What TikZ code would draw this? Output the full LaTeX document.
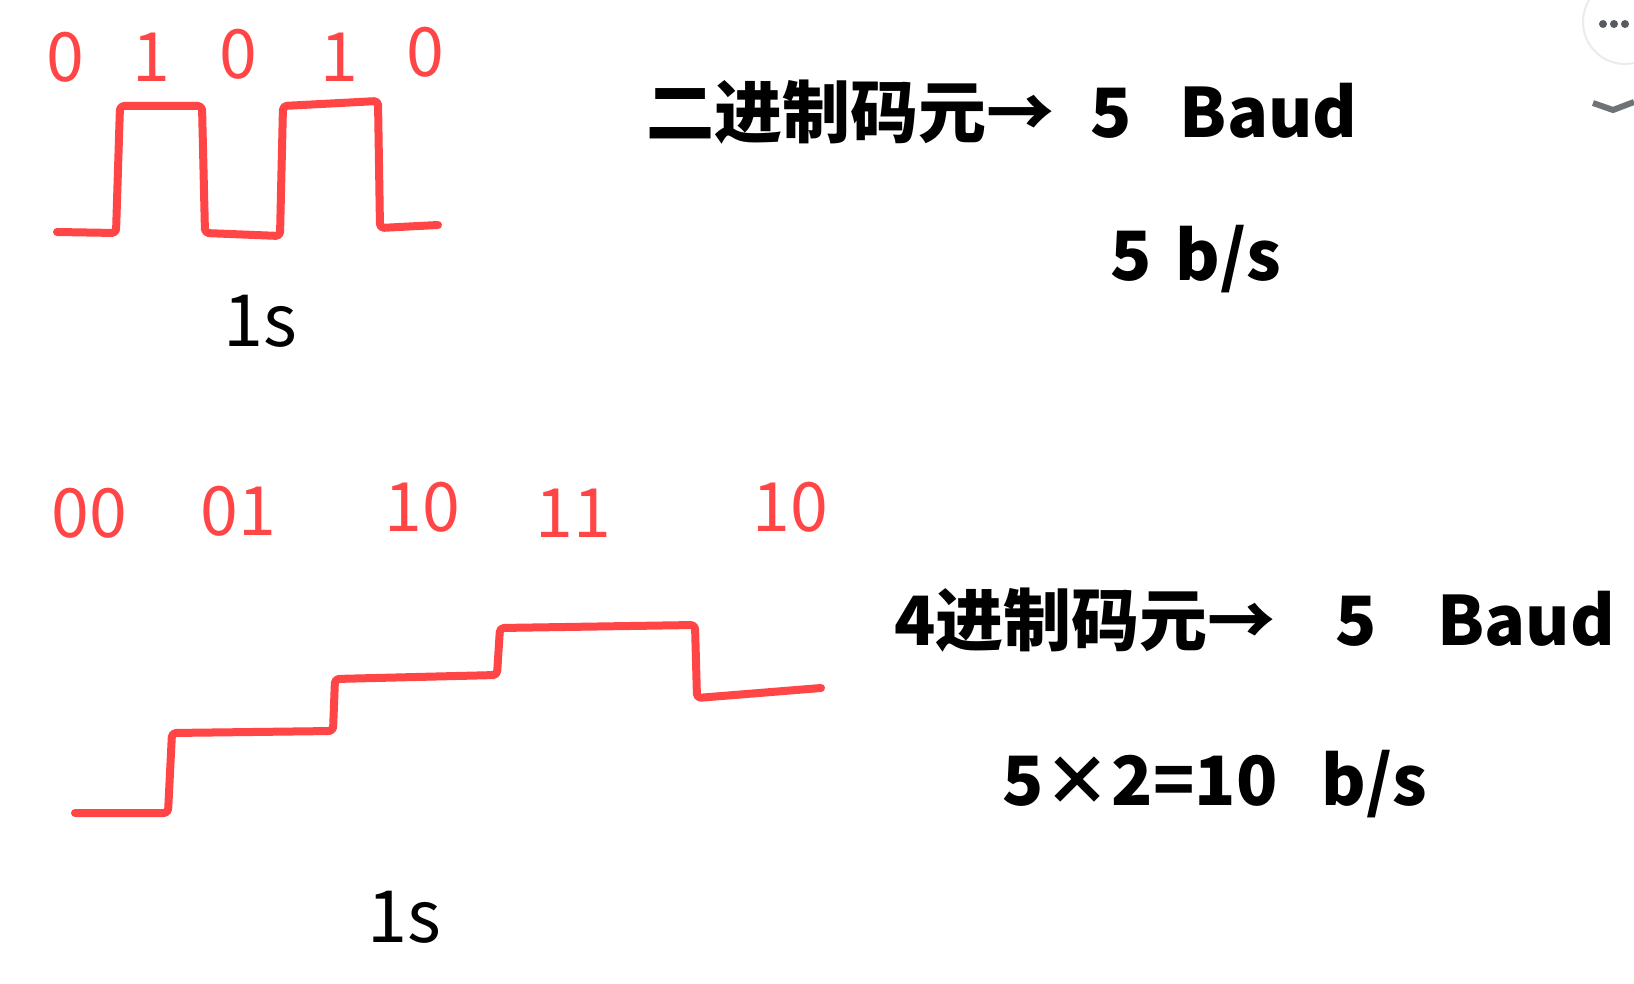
\documentclass[tikz,border=0pt]{standalone}
\usepackage{fontspec}
\newfontfamily\cjk{Noto Sans CJK SC}
\usetikzlibrary{positioning}
\definecolor{inkred}{HTML}{FF4545}
\definecolor{uigray}{HTML}{6E7378}
\begin{document}
\begin{tikzpicture}[
        x=0.5pt, y=-0.5pt,
        wave/.style={draw=inkred, line width=4pt, line cap=round,
            line join=round, rounded corners=2pt},
        bit/.style={text=inkred, font=\cjk\fontsize{34}{40}\selectfont,
            inner sep=0pt},
        note/.style={text=black, font=\cjk\bfseries\fontsize{34}{40}\selectfont,
            inner sep=0pt, anchor=base west},
        sec/.style={text=black, font=\cjk\fontsize{36}{40}\selectfont,
            inner sep=0pt},
    ]
        \useasboundingbox[fill=white] (0,0) rectangle (1634,984);

        % Binary signal
        \draw[wave] (57,232) -- (116,233) -- (120,106) -- (202,106)
            -- (205,233) -- (280,236) -- (283,106) -- (378,101)
            -- (380,228) -- (438,225);
        \foreach \x/\y/\name/\val in {65/57/ba/0, 151/57/bb/1, 238/54/bc/0,
                339/57/bd/1, 425/52/be/0} {
            \node[bit] (\name) at (\x,\y) {\val};
        }
        \node[sec] (t1) at (260,321) {1s};

        % Quaternary signal
        \draw[wave] (75,813) -- (168,813) -- (172,733) -- (333,731)
            -- (335,679) -- (497,675) -- (500,628) -- (695,625)
            -- (697,698) -- (821,688);
        \foreach \x/\y/\name/\val in {89/513/qa/00, 238/511/qb/01,
                422/507/qc/10, 573/513/qd/11, 790/507/qe/10} {
            \node[bit] (\name) at (\x,\y) {\val};
        }
        \node[sec] (t2) at (404,917) {1s};

        % Notes
        \node[note] (n1) at (646,138)
            {二进制码元→\hspace{18pt}5\hspace{24pt}Baud};
        \node[note] (r1) at (1110,281) {5\hspace{12pt}b/s};
        \node[note] (n2) at (894,645)
            {4进制码元→\hspace{30pt}5\hspace{30pt}Baud};
        \node[note] (r2) at (1002,805) {5×2=10\hspace{22pt}b/s};

        % Viewer buttons
        \node[circle, draw=black!8, line width=1pt, minimum size=42pt,
            inner sep=0pt] (menu) at (1625,22) {};
        \foreach \x in {1603,1614,1625} {
            \fill[uigray!80!black] (\x,24) circle (2pt);
        }
        \draw[uigray, line width=3pt] (1593,103) -- (1613,110) -- (1634,102);
    \end{tikzpicture}
\end{document}
